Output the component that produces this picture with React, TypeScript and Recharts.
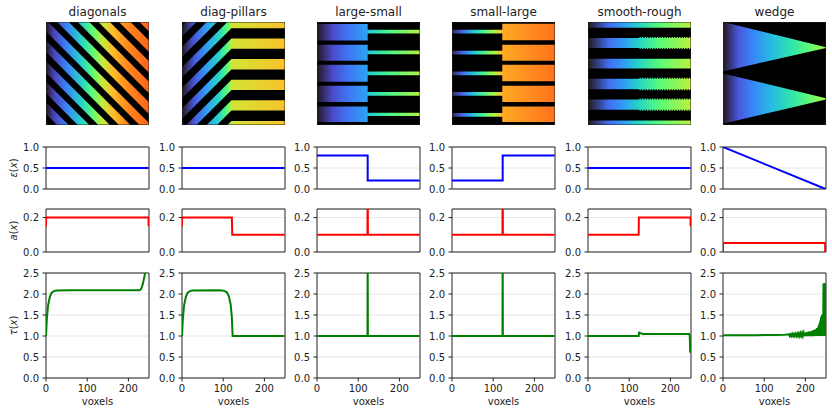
import React from 'react';
import { ComposedChart, LineChart, Line, Area, XAxis, YAxis, CartesianGrid, ReferenceArea } from 'recharts';

const FONT = 'DejaVu Sans';
const TEXT = '#222';

// ---------- categories / titles ----------
const titles = ['diagonals', 'diag-pillars', 'large-small', 'small-large', 'smooth-rough', 'wedge'];

// ---------- epsilon(x) series ----------
const epsDiagonals: [number, number][] = [[0, 0.5], [249, 0.5]];
const epsDiagPillars: [number, number][] = [[0, 0.5], [249, 0.5]];
const epsLargeSmall: [number, number][] = [[0, 0.8], [123, 0.8], [123, 0.2], [249, 0.2]];
const epsSmallLarge: [number, number][] = [[0, 0.2], [123, 0.2], [123, 0.8], [249, 0.8]];
const epsSmoothRough: [number, number][] = [[0, 0.5], [249, 0.5]];
const epsWedge: [number, number][] = [[0, 1.0], [249, 0.0]];

// ---------- a(x) series ----------
const aDiagonals: [number, number][] = [[0, 0.15], [0, 0.2], [249, 0.2], [249, 0.15]];
const aDiagPillars: [number, number][] = [[0, 0.15], [0, 0.2], [121, 0.2], [122, 0.1], [249, 0.1]];
const aLargeSmall: [number, number][] = [[0, 0.1], [122.5, 0.1], [123, 0.6], [123.5, 0.1], [249, 0.1]];
const aSmallLarge: [number, number][] = [[0, 0.1], [122.5, 0.1], [123, 0.6], [123.5, 0.1], [249, 0.1]];
const aSmoothRough: [number, number][] = [[0, 0.1], [123, 0.1], [123.5, 0.2], [249, 0.2], [249, 0.15]];
const aWedge: [number, number][] = [[0, 0], [0, 0.052], [248, 0.052], [248, 0]];

// ---------- tau(x) series ----------
const tauDiagonals: [number, number][] = [
  [0, 1.0], [2, 1.4], [5, 1.72], [9, 1.92], [13, 2.02], [19, 2.07], [25, 2.085], [60, 2.09],
  [227, 2.09], [231, 2.12], [235, 2.24], [239, 2.42], [242, 2.6], [245, 3.2], [249, 4.0],
];
const tauDiagPillars: [number, number][] = [
  [0, 1.0], [2, 1.4], [5, 1.72], [9, 1.92], [13, 2.02], [19, 2.07], [25, 2.085], [90, 2.09],
  [101, 2.08], [109, 2.04], [114, 1.94], [118, 1.75], [121, 1.45], [122, 1.2], [123, 1.0], [249, 1.0],
];
const tauLargeSmall: [number, number][] = [[0, 1.0], [122.5, 1.0], [123, 3.0], [123.5, 1.0], [249, 1.0]];
const tauSmallLarge: [number, number][] = [[0, 1.0], [122.5, 1.0], [123, 3.0], [123.5, 1.0], [249, 1.0]];
const tauSmoothRough: [number, number][] = [
  [0, 1.0], [123, 1.0], [124, 1.1], [125, 1.07], [129, 1.065], [133, 1.045], [246, 1.045], [247, 1.0], [248, 0.6],
];
const tauWedge: [number, number][] = [
  [0, 1.02], [40, 1.02], [80, 1.02], [120, 1.025], [150, 1.03], [160, 1.04], [162, 1.0], [164, 1.04], [166, 1.0],
  [168, 1.045], [170, 1.0], [172, 1.05], [174, 1.0], [176, 1.05], [178, 1.0], [180, 1.055], [182, 1.0],
  [184, 1.06], [186, 1.0], [188, 1.065], [190, 1.0], [192, 1.07], [194, 1.0], [196, 1.075], [198, 1.0],
  [200, 1.08], [202, 1.0], [204, 1.09], [206, 1.0], [208, 1.1], [210, 1.0], [212, 1.11], [214, 1.0],
  [216, 1.12], [218, 1.0], [220, 1.14], [222, 1.0], [224, 1.16], [226, 1.0], [228, 1.19], [230, 1.0],
  [232, 1.24], [233, 1.0], [234, 1.3], [235, 1.0], [236, 1.36], [237, 1.0], [238, 1.45], [239, 1.0],
  [240, 1.5], [241, 1.0], [242, 1.52], [243, 1.0], [244, 2.25], [245, 1.0], [246, 2.26], [247, 1.0],
  [247.5, 2.25], [248, 1.0],
];

// ---------- axis ticks ----------
const xTicks = [0, 100, 200];
const epsTicks = [0, 0.5, 1.0];
const aTicks = [0, 0.2];
const tauTicks = [0, 0.5, 1.0, 1.5, 2.0, 2.5];

// ---------- image geometry (voxel units, y measured downward) ----------
const diagBlackC = [-245, -195, -145, -95, -45, 5, 55, 105, 155, 205]; // x - y offsets of black stripes
const diagBlackW = 22;
const pillarRows = [-135, -85, -35, 15, 65, 115, 165, 215]; // black pillar rows (top edge)
const pillarJunction = 120;
const pillarBlackW = 25;
const lsBlackLeft: [number, number][] = [[0, 5], [45, 55], [94, 104], [145, 155], [194, 205], [243, 250]];
const lsBlackRight: [number, number][] = [[0, 19], [28, 69], [78, 120], [129, 170], [179, 220], [228, 250]];
const lsStep = 123;
const slBlackLeft: [number, number][] = [[0, 19], [28, 70], [79, 120], [129, 170], [179, 221], [230, 250]];
const slBlackRight: [number, number][] = [[0, 4], [44, 55], [94, 104], [144, 155], [194, 205], [243, 250]];
const slStep = 122;
const srBlack: [number, number, boolean, boolean][] = [
  [14, 39, false, true], [63, 89, true, false], [113, 138, false, true], [163, 188, true, true], [213, 239, true, false],
];
const roughTeeth = [125, 128, 131, 134, 137, 140, 143, 146, 149, 152, 155, 158, 161, 164, 167, 170, 173, 176, 179, 182,
  185, 188, 191, 194, 197, 200, 203, 206, 209, 212, 215, 218, 221, 224, 227, 230, 233, 236, 239, 242, 245, 248];
const roughDepth = 2.5;
const wedgeBlackLeft: [number, number][] = [[0, 0], [120, 125], [247, 250]];
const wedgeBlackRight: [number, number][] = [[0, 61], [63, 185], [188, 250]];

// colour gradient stops: [x fraction, turbo value]
const gradDiagonals = [[0, 0], [0.08, 0.07], [0.2, 0.16], [0.35, 0.3], [0.45, 0.42], [0.55, 0.56], [0.65, 0.66], [0.8, 0.74], [1, 0.79]];
const gradDiagPillars = [[0, 0], [0.12, 0.1], [0.24, 0.2], [0.36, 0.3], [0.44, 0.42], [0.48, 0.54], [0.49, 0.58], [1, 0.65]];
const gradLargeSmall = [[0, 0], [0.15, 0.08], [0.3, 0.14], [0.49, 0.21], [0.495, 0.27], [0.7, 0.39], [1, 0.54]];
const gradSmallLarge = [[0, 0.02], [0.1, 0.12], [0.2, 0.25], [0.3, 0.38], [0.4, 0.52], [0.485, 0.64], [0.49, 0.69], [1, 0.77]];
const gradSmoothRough = [[0, 0], [0.2, 0.13], [0.35, 0.2], [0.5, 0.3], [0.7, 0.42], [1, 0.55]];
const gradWedge = [[0, 0], [0.15, 0.1], [0.3, 0.17], [0.5, 0.26], [0.7, 0.35], [0.9, 0.46], [1, 0.52]];

// ---------- layout ----------
const PL = [46, 182, 317, 452, 588, 723];
const PW = 103;
const IMG_T = 22, IMG_H = 103;
const EPS_T = 147, EPS_H = 42;
const A_T = 209, A_H = 43;
const TAU_T = 273, TAU_H = 105;

function turbo(t: number) {
  t = Math.max(0, Math.min(1, t));
  const r = 0.13572138 + t * (4.6153926 + t * (-42.66032258 + t * (132.13108234 + t * (-152.94239396 + t * 59.28637943))));
  const g = 0.09140261 + t * (2.19418839 + t * (4.84296658 + t * (-14.18503333 + t * (4.27729857 + t * 2.82956604))));
  const b = 0.1066733 + t * (12.64194608 + t * (-60.58204836 + t * (110.36276771 + t * (-89.90310912 + t * 27.34824973))));
  const c = (v: number) => Math.round(Math.max(0, Math.min(1, v)) * 255);
  return `rgb(${c(r)},${c(g)},${c(b)})`;
}

type Band = { type: 'linear' | 'stepAfter'; vals: [number, number][] };

function buildImages() {
  const imgs: { xs: number[]; bands: Band[]; grad: number[][] }[] = [];
  imgs.push({
    xs: [0, 250],
    grad: gradDiagonals,
    bands: diagBlackC.map((c) => ({ type: 'linear', vals: [[-c - diagBlackW, -c], [250 - c - diagBlackW, 250 - c]] })),
  });
  imgs.push({
    xs: [0, pillarJunction, 250],
    grad: gradDiagPillars,
    bands: pillarRows.map((r) => ({
      type: 'linear',
      vals: [[r + pillarJunction, r + pillarJunction + pillarBlackW], [r, r + pillarBlackW], [r, r + pillarBlackW]],
    })),
  });
  imgs.push({
    xs: [0, lsStep, 250],
    grad: gradLargeSmall,
    bands: lsBlackLeft.map((l, i) => ({ type: 'stepAfter', vals: [l, lsBlackRight[i], lsBlackRight[i]] })),
  });
  imgs.push({
    xs: [0, slStep, 250],
    grad: gradSmallLarge,
    bands: slBlackLeft.map((l, i) => ({ type: 'stepAfter', vals: [l, slBlackRight[i], slBlackRight[i]] })),
  });
  const srXs = [0, ...roughTeeth, 250];
  imgs.push({
    xs: srXs,
    grad: gradSmoothRough,
    bands: srBlack.map(([lo, hi, rl, rh]) => ({
      type: 'stepAfter',
      vals: srXs.map((x, i) => {
        const on = x >= 125 && x < 250 && i % 2 === 1;
        return [lo + (rl && on ? roughDepth : 0), hi - (rh && on ? roughDepth : 0)] as [number, number];
      }),
    })),
  });
  imgs.push({
    xs: [0, 250],
    grad: gradWedge,
    bands: wedgeBlackLeft.map((l, i) => ({ type: 'linear', vals: [l, wedgeBlackRight[i]] })),
  });
  return imgs;
}

function ImagePanel({ col, xs, bands, grad }: { col: number; xs: number[]; bands: Band[]; grad: number[][] }) {
  const id = `grad${col}`;
  const data = xs.map((x, i) => {
    const row: any = { x, bg: [0, 250] };
    bands.forEach((b, j) => (row['b' + j] = b.vals[i]));
    return row;
  });
  return (
    <div style={{ position: 'absolute', left: PL[col], top: IMG_T }}>
      <ComposedChart width={PW} height={IMG_H} data={data} margin={{ top: 0, right: 0, bottom: 0, left: 0 }}>
        <defs>
          <linearGradient id={id} x1="0" y1="0" x2="1" y2="0">
            {grad.map(([o, t]) => (
              <stop key={o} offset={o} stopColor={turbo(t)} />
            ))}
          </linearGradient>
        </defs>
        <XAxis dataKey="x" type="number" domain={[0, 250]} hide allowDataOverflow />
        <YAxis type="number" domain={[0, 250]} reversed hide allowDataOverflow />
        <Area dataKey="bg" type="linear" fill={`url(#${id})`} fillOpacity={1} stroke="none" isAnimationActive={false} dot={false} activeDot={false} />
        {bands.map((b, j) => (
          <Area key={j} dataKey={'b' + j} type={b.type} fill="#000" fillOpacity={1} stroke="none" isAnimationActive={false} dot={false} activeDot={false} />
        ))}
        <ReferenceArea x1={0} x2={250} y1={0} y2={250} fill="none" fillOpacity={0} stroke="#222" strokeWidth={1} ifOverflow="visible" />
      </ComposedChart>
    </div>
  );
}

const tickStyle = { fontSize: 10, fill: TEXT, fontFamily: FONT };

function yLabelContent(sym: string) {
  return (props: any) => {
    const vb = props.viewBox || { x: 0, y: 0, width: 40, height: 40 };
    const cx = vb.x + 6.7;
    const cy = vb.y + vb.height / 2;
    return (
      <text x={cx} y={cy} transform={`rotate(-90 ${cx} ${cy})`} textAnchor="middle" dominantBaseline="central" fontSize={10} fontFamily={FONT} fill={TEXT}>
        <tspan fontStyle="italic">{sym}</tspan>
        <tspan>(</tspan>
        <tspan fontStyle="italic">x</tspan>
        <tspan>)</tspan>
      </text>
    );
  };
}

function voxelsContent(props: any) {
  const vb = props.viewBox || { x: 0, y: 0, width: PW, height: 30 };
  return (
    <text x={vb.x + vb.width / 2} y={vb.y + 26.5} textAnchor="middle" fontSize={10} fontFamily={FONT} fill={TEXT}>
      voxels
    </text>
  );
}

function LinePanel(props: {
  col: number; top: number; h: number; pts: [number, number][]; color: string;
  domain: [number, number]; ticks: number[]; bottom?: boolean; sym?: string;
}) {
  const { col, top, h, pts, color, domain, ticks, bottom, sym } = props;
  const ML = 40, MT = 6, MR = 4;
  const MB = bottom ? 0 : 8;
  const XH = bottom ? 30 : 0;
  const data = pts.map(([x, y]) => ({ x, y }));
  return (
    <div style={{ position: 'absolute', left: PL[col] - ML, top: top - MT }}>
      <LineChart width={ML + PW + MR} height={MT + h + XH + MB} data={data} margin={{ top: MT, right: MR, bottom: MB, left: 0 }}>
        <CartesianGrid vertical={false} stroke="#e6e6e6" strokeWidth={1} />
        <XAxis
          dataKey="x" type="number" domain={[0, 250]} ticks={xTicks} allowDataOverflow hide={!bottom}
          height={XH} tickSize={3.5} tickMargin={3.5} tick={tickStyle} tickLine={{ stroke: TEXT }}
          axisLine={false} interval={0} label={bottom ? { content: voxelsContent } : undefined}
        />
        <YAxis
          type="number" domain={domain} ticks={ticks} allowDataOverflow width={ML} tickSize={3.5} tickMargin={3.5}
          tickFormatter={(v: number) => v.toFixed(1)} tick={tickStyle} tickLine={{ stroke: TEXT }} axisLine={false}
          interval={0} label={sym ? { content: yLabelContent(sym) } : undefined}
        />
        <Line dataKey="y" type="linear" stroke={color} strokeWidth={2} dot={false} activeDot={false} isAnimationActive={false} />
        <ReferenceArea x1={0} x2={250} y1={domain[0]} y2={domain[1]} fill="none" fillOpacity={0} stroke="#222" strokeWidth={1} ifOverflow="visible" />
      </LineChart>
    </div>
  );
}

const epsSeries = [epsDiagonals, epsDiagPillars, epsLargeSmall, epsSmallLarge, epsSmoothRough, epsWedge];
const aSeries = [aDiagonals, aDiagPillars, aLargeSmall, aSmallLarge, aSmoothRough, aWedge];
const tauSeries = [tauDiagonals, tauDiagPillars, tauLargeSmall, tauSmallLarge, tauSmoothRough, tauWedge];

export default function App() {
  const imgs = buildImages();
  return (
    <div style={{ position: 'absolute', left: 0, top: 0, width: 832, height: 415, background: '#fff', fontFamily: FONT }}>
      {titles.map((t, i) => (
        <div key={t} style={{ position: 'absolute', left: PL[i] - 20, width: PW + 40, top: 5, textAlign: 'center', fontSize: 12, lineHeight: '14px', color: TEXT, fontFamily: FONT }}>
          {t}
        </div>
      ))}
      {imgs.map((im, i) => (
        <ImagePanel key={'img' + i} col={i} xs={im.xs} bands={im.bands} grad={im.grad} />
      ))}
      {epsSeries.map((s, i) => (
        <LinePanel key={'e' + i} col={i} top={EPS_T} h={EPS_H} pts={s} color="#0000ff" domain={[0, 1]} ticks={epsTicks} sym={i === 0 ? 'ε' : undefined} />
      ))}
      {aSeries.map((s, i) => (
        <LinePanel key={'a' + i} col={i} top={A_T} h={A_H} pts={s} color="#ff0000" domain={[0, 0.25]} ticks={aTicks} sym={i === 0 ? 'a' : undefined} />
      ))}
      {tauSeries.map((s, i) => (
        <LinePanel key={'t' + i} col={i} top={TAU_T} h={TAU_H} pts={s} color="#008000" domain={[0, 2.5]} ticks={tauTicks} bottom sym={i === 0 ? 'τ' : undefined} />
      ))}
    </div>
  );
}
